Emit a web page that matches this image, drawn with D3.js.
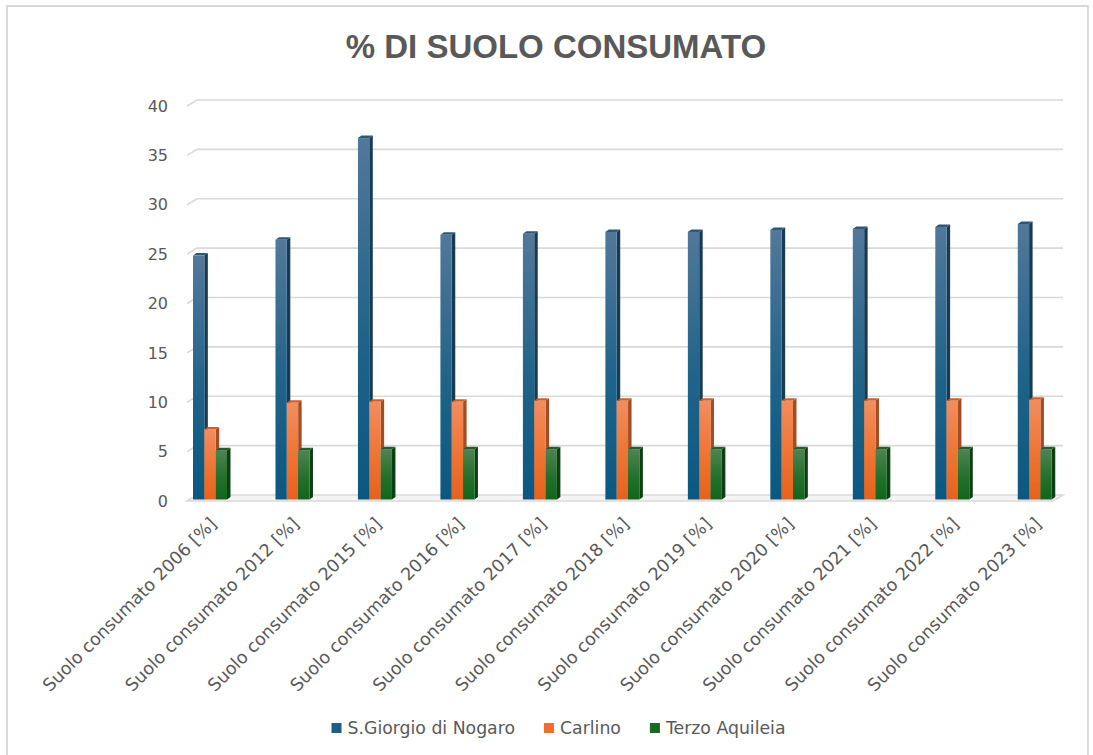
<!DOCTYPE html>
<html>
<head>
<meta charset="utf-8">
<script src="https://cdn.jsdelivr.net/npm/d3@7"></script>
<style>
  html, body { margin: 0; padding: 0; background: #ffffff; }
  svg { display: block; }
  text { font-family: "DejaVu Sans", "Liberation Sans", Arial, sans-serif; fill: #595959; }
</style>
</head>
<body>
<div id="chart"></div>
<script>
const title = "% DI SUOLO CONSUMATO";
const categories = [
  "Suolo consumato 2006 [%]", "Suolo consumato 2012 [%]", "Suolo consumato 2015 [%]",
  "Suolo consumato 2016 [%]", "Suolo consumato 2017 [%]", "Suolo consumato 2018 [%]",
  "Suolo consumato 2019 [%]", "Suolo consumato 2020 [%]", "Suolo consumato 2021 [%]",
  "Suolo consumato 2022 [%]", "Suolo consumato 2023 [%]"
];
const seriesNames = ["S.Giorgio di Nogaro", "Carlino", "Terzo Aquileia"];
const sGiorgioValues = [24.7, 26.3, 36.6, 26.8, 26.9, 27.1, 27.1, 27.3, 27.4, 27.6, 27.9];
const carlinoValues  = [7.1, 9.8, 9.9, 9.9, 10.0, 10.0, 10.0, 10.0, 10.0, 10.0, 10.1];
const terzoValues    = [5.0, 5.0, 5.1, 5.1, 5.1, 5.1, 5.1, 5.1, 5.1, 5.1, 5.1];
const yTicks = [0, 5, 10, 15, 20, 25, 30, 35, 40];

const W = 1093, H = 755;
const seriesValues = [sGiorgioValues, carlinoValues, terzoValues];
const colors = [
  { top: "#52789a", mid: "#1f6389", bot: "#0a5881", side: "#173b53", cap: "#2f5673", legend: "#1f5d86" },
  { top: "#f28d5f", mid: "#ee7433", bot: "#e6621c", side: "#a44c22", cap: "#c4622f", legend: "#f06d2b" },
  { top: "#4e8452", mid: "#25702c", bot: "#0f671b", side: "#0c3f12", cap: "#2a5a2d", legend: "#186a22" }
];

const svg = d3.select("#chart").append("svg").attr("width", W).attr("height", H);

// chart border
svg.append("rect").attr("x", 7).attr("y", 6).attr("width", 1081).attr("height", 770)
  .attr("fill", "none").attr("stroke", "#d9d9d9").attr("stroke-width", 2);

// gradients
const defs = svg.append("defs");
colors.forEach((c, i) => {
  const g = defs.append("linearGradient").attr("id", "grad" + i)
    .attr("x1", 0).attr("y1", 0).attr("x2", 0).attr("y2", 1);
  g.append("stop").attr("offset", "0%").attr("stop-color", c.top);
  g.append("stop").attr("offset", "55%").attr("stop-color", c.mid);
  g.append("stop").attr("offset", "100%").attr("stop-color", c.bot);
});

// scales
const plotL = 187, plotR = 1053;
const depthX = 10, depthY = -6;
const x0 = d3.scaleBand().domain(categories).range([plotL, plotR]).paddingInner(0.5).paddingOuter(0);
const x1 = d3.scaleBand().domain(seriesNames).range([6, 40]);
const y = d3.scaleLinear().domain([0, 40]).range([501, 106]);
const yBar = d3.scaleLinear().domain([0, 40]).range([499.5, 104.5]);

// title
svg.append("text").attr("x", 556).attr("y", 58).attr("text-anchor", "middle")
  .style("font-family", "'Liberation Sans', Arial, sans-serif")
  .style("font-size", "33px").style("font-weight", "bold").style("fill", "#595959")
  .text(title);

// floor
svg.append("polygon")
  .attr("points", [[plotL, y(0)], [plotR, y(0)], [plotR + depthX, y(0) + depthY], [plotL + depthX, y(0) + depthY]].map(p => p.join(",")).join(" "))
  .attr("fill", "#f4f4f4").attr("stroke", "#d9d9d9").attr("stroke-width", 1.5);

// gridlines (back wall + left diagonal)
const grid = svg.append("g");
yTicks.filter(t => t > 0).forEach(t => {
  grid.append("path")
    .attr("d", `M${plotL},${y(t)} L${plotL + depthX},${y(t) + depthY} L${plotR + depthX},${y(t) + depthY}`)
    .attr("fill", "none").attr("stroke", "#d9d9d9").attr("stroke-width", 1.6);
});

// y axis labels
const yAxis = d3.axisLeft(y).tickValues(yTicks).tickSize(0).tickPadding(0);
const ya = svg.append("g").attr("transform", `translate(168,0)`).call(yAxis);
ya.select(".domain").remove();
ya.selectAll("text").style("font-size", "16px").style("fill", "#595959")
  .style("font-family", "'DejaVu Sans', 'Liberation Sans', Arial, sans-serif");

// bars
const bw = x1.bandwidth();
const bars = svg.append("g");
seriesNames.forEach((s, si) => {
  const c = colors[si];
  categories.forEach((cat, ci) => {
    const v = seriesValues[si][ci];
    const bx = x0(cat) + x1(s);
    const by = yBar(v);
    const bb = yBar(0);
    const dx = 3.5, dy = -2.5;
    bars.append("polygon")
      .attr("points", [[bx + bw, by], [bx + bw + dx, by + dy], [bx + bw + dx, bb + dy], [bx + bw, bb]].map(p => p.join(",")).join(" "))
      .attr("fill", c.side);
    bars.append("polygon")
      .attr("points", [[bx, by], [bx + dx, by + dy], [bx + bw + dx, by + dy], [bx + bw, by]].map(p => p.join(",")).join(" "))
      .attr("fill", c.cap);
    bars.append("rect").attr("x", bx).attr("y", by).attr("width", bw).attr("height", bb - by)
      .attr("fill", `url(#grad${si})`);
  });
});

// x labels
const xl = svg.append("g");
categories.forEach(cat => {
  const cx = x0(cat) + x0.bandwidth() / 2;
  xl.append("text")
    .attr("transform", `translate(${cx + 10},${525}) rotate(-45)`)
    .attr("text-anchor", "end")
    .style("font-size", "17.5px")
    .text(cat);
});

// legend
const lg = svg.append("g");
const items = seriesNames.map((s, i) => {
  const g = lg.append("g");
  g.append("rect").attr("x", 0).attr("y", -11).attr("width", 10).attr("height", 10).attr("fill", colors[i].legend);
  const t = g.append("text").attr("x", 16).attr("y", 0).style("font-size", "17.3px").text(s);
  return { g, w: 16 + t.node().getComputedTextLength() };
});
const gap = 29;
const total = d3.sum(items, d => d.w) + gap * (items.length - 1);
let lx = 558.5 - total / 2;
items.forEach(it => {
  it.g.attr("transform", `translate(${lx},734)`);
  lx += it.w + gap;
});
</script>
</body>
</html>
